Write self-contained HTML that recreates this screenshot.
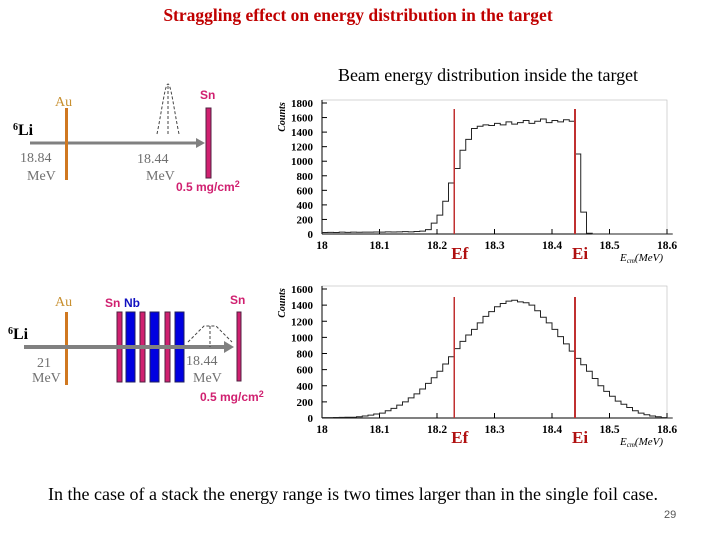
<!DOCTYPE html>
<html><head><meta charset="utf-8"><style>
body{margin:0;background:#fff;width:720px;height:540px;overflow:hidden}
svg{display:block}
.t{font-family:"Liberation Serif",serif}
.s{font-family:"Liberation Sans",sans-serif}
</style></head><body>
<svg id="svg" width="720" height="540" xmlns="http://www.w3.org/2000/svg">
<text class="t" x="358" y="21" text-anchor="middle" font-size="17.5" font-weight="bold" fill="#c00000">Straggling effect on energy distribution in the target</text>
<text class="t" x="338" y="81" font-size="18" fill="#000" textLength="300">Beam energy distribution inside the target</text>
<text class="t" x="48" y="500" font-size="18" fill="#000" textLength="610">In the case of a stack the energy range is two times larger than in the single foil case.</text>
<text class="s" x="664" y="518" font-size="11" fill="#555">29</text>

<g>
<text class="t" x="55" y="106" font-size="14" fill="#c89030">Au</text>
<text class="s" x="200" y="99" font-size="12" font-weight="bold" fill="#d02070">Sn</text>
<text class="t" x="13" y="135" font-size="16" font-weight="bold"><tspan font-size="10" dy="-5">6</tspan><tspan dy="5">Li</tspan></text>
<line x1="30" y1="143" x2="200" y2="143" stroke="#808080" stroke-width="3"/>
<polygon points="196,138 205,143 196,148" fill="#808080"/>
<rect x="65" y="108" width="3" height="72" fill="#d07820"/>
<rect x="206" y="108" width="5" height="70" fill="#d02070" stroke="#502040" stroke-width="1"/>
<path d="M157,134 C162,110 165,84 168,84 C171,84 174,110 179,134" fill="none" stroke="#444" stroke-dasharray="3,2"/>
<line x1="168" y1="86" x2="168" y2="134" stroke="#444" stroke-dasharray="3,2"/>
<text class="t" x="20" y="162" font-size="14" fill="#707070">18.84</text>
<text class="t" x="27" y="180" font-size="14" fill="#707070">MeV</text>
<text class="t" x="137" y="163" font-size="14" fill="#707070">18.44</text>
<text class="t" x="146" y="180" font-size="14" fill="#707070">MeV</text>
<text class="s" x="176" y="191" font-size="12" font-weight="bold" fill="#d02070">0.5 mg/cm<tspan font-size="9" dy="-4">2</tspan></text>
</g>

<g>
<text class="t" x="55" y="306" font-size="14" fill="#c89030">Au</text>
<text class="s" x="105" y="307" font-size="12" font-weight="bold" fill="#d02070">Sn</text>
<text class="s" x="124" y="307" font-size="12" font-weight="bold" fill="#1010c0">Nb</text>
<text class="s" x="230" y="304" font-size="12" font-weight="bold" fill="#d02070">Sn</text>
<text class="t" x="8" y="339" font-size="16" font-weight="bold"><tspan font-size="10" dy="-5">6</tspan><tspan dy="5">Li</tspan></text>
<rect x="65" y="312" width="3" height="73" fill="#d07820"/>
<rect x="117" y="312" width="5" height="70" fill="#d02070" stroke="#502040"/>
<rect x="126" y="312" width="9" height="70" fill="#0000e0" stroke="#202060"/>
<rect x="140" y="312" width="5" height="70" fill="#d02070" stroke="#502040"/>
<rect x="150" y="312" width="9" height="70" fill="#0000e0" stroke="#202060"/>
<rect x="165" y="312" width="5" height="70" fill="#d02070" stroke="#502040"/>
<rect x="175" y="312" width="9" height="70" fill="#0000e0" stroke="#202060"/>
<line x1="24" y1="347" x2="228" y2="347" stroke="#808080" stroke-width="4"/>
<polygon points="224,341 234,347 224,353" fill="#808080"/>
<rect x="237" y="312" width="4" height="69" fill="#d02070" stroke="#502040"/>
<path d="M188,342 L204,326 L216,326 L232,342" fill="none" stroke="#444" stroke-dasharray="3,2"/>
<line x1="210" y1="326" x2="210" y2="347" stroke="#444" stroke-dasharray="3,2"/>
<text class="t" x="37" y="367" font-size="14" fill="#707070">21</text>
<text class="t" x="32" y="382" font-size="14" fill="#707070">MeV</text>
<text class="t" x="186" y="365" font-size="14" fill="#707070">18.44</text>
<text class="t" x="193" y="382" font-size="14" fill="#707070">MeV</text>
<text class="s" x="200" y="401" font-size="12" font-weight="bold" fill="#d02070">0.5 mg/cm<tspan font-size="9" dy="-4">2</tspan></text>
</g>
<g id="charts"></g>
</svg>
<script>
const energies=[];for(let i=0;i<=60;i++)energies.push(+(18+i*0.01).toFixed(2));
const singleCounts=[20,22,20,25,22,25,24,26,25,28,26,30,28,30,32,30,35,40,60,150,260,450,700,900,1150,1300,1450,1480,1500,1490,1520,1500,1540,1510,1530,1560,1520,1550,1580,1530,1560,1540,1570,1550,1100,300,10,0,0,0,0,0,0,0,0,0,0,0,0,0,0];
const stackCounts=[5,5,6,8,10,10,15,25,35,50,60,90,120,160,200,250,300,360,430,500,580,670,760,860,950,1030,1100,1180,1260,1320,1380,1420,1450,1460,1440,1430,1400,1330,1250,1180,1100,1010,920,830,740,660,580,490,400,330,270,210,170,130,90,60,40,25,15,5,0];
const yTicks1=[0,200,400,600,800,1000,1200,1400,1600,1800];
const yTicks2=[0,200,400,600,800,1000,1200,1400,1600];
const xTicks=[18,18.1,18.2,18.3,18.4,18.5,18.6];
const markerEnergies=[18.23,18.44];
const markerLabels=['Ef','Ei'];
const NS='http://www.w3.org/2000/svg';
const root=document.getElementById('charts');
function mk(t,a,p){const e=document.createElementNS(NS,t);for(const k in a)e.setAttribute(k,a[k]);(p||root).appendChild(e);return e;}
function chart(name,top,bottom,ymax,counts,yTicks,markTop){
  const L=322,R=667;
  const sx=v=>L+(v-18)/0.6*(R-L);
  const sy=v=>bottom-v/ymax*(bottom-top);
  const g=mk('g',{});
  
  
  mk('rect',{x:L,y:top-3,width:R-L,height:bottom-top+3,fill:'none',stroke:'#bbb','stroke-width':0.6},g);
  mk('line',{x1:L,y1:top-3,x2:L,y2:bottom,stroke:'#000','stroke-width':1},g);
  mk('line',{x1:L,y1:bottom,x2:R,y2:bottom,stroke:'#000','stroke-width':1},g);
  yTicks.forEach(v=>{
    const t=mk('text',{x:L-9,y:sy(v)+4,'text-anchor':'end','font-size':11,'font-weight':'bold','font-family':'Liberation Serif,serif'},g);t.textContent=v;
    
    mk('line',{x1:L,y1:sy(v),x2:L+5,y2:sy(v),stroke:'#000'},g);
  });
  xTicks.forEach(v=>{
    const t=mk('text',{x:sx(v),y:bottom+15,'text-anchor':'middle','font-size':11.5,'font-weight':'bold','font-family':'Liberation Serif,serif'},g);t.textContent=v;
    
    mk('line',{x1:sx(v),y1:bottom,x2:sx(v),y2:bottom-5,stroke:'#000'},g);
  });
  const yl=mk('text',{x:0,y:0,transform:`translate(285,${top+14}) rotate(-90)`,'text-anchor':'middle','font-size':10,'font-style':'italic','font-weight':'bold','font-family':'Liberation Serif,serif'},g);yl.textContent='Counts';
  
  const xl=mk('text',{x:620,y:bottom+27,'font-size':11,'font-style':'italic','font-family':'Liberation Serif,serif'},g);xl.innerHTML='E<tspan font-size="7" dy="2">cm</tspan><tspan dy="-2">(MeV)</tspan>';
  
  let d='';const w=(sx(18.01)-sx(18));
  counts.forEach((c,i)=>{const x=sx(energies[i]);d+=(i?'L':'M')+x+','+sy(c)+'L'+(x+w)+','+sy(c);});
  const p=mk('path',{d:d,fill:'none',stroke:'#222','stroke-width':1},g);
  
  markerEnergies.forEach((e,i)=>{
    const l=mk('line',{x1:sx(e),y1:markTop,x2:sx(e),y2:bottom,stroke:'#c03030','stroke-width':i?2:1.5},g);
    
    const t=mk('text',{x:sx(e)-3,y:bottom+25,'font-size':17,'font-weight':'bold',fill:'#b01010','font-family':'Liberation Serif,serif'},g);t.textContent=markerLabels[i];
    
  });
}
chart('single-foil-chart',103,234,1800,singleCounts,yTicks1,109);
chart('stack-chart',289,418,1600,stackCounts,yTicks2,297);
</script>
</body></html>
